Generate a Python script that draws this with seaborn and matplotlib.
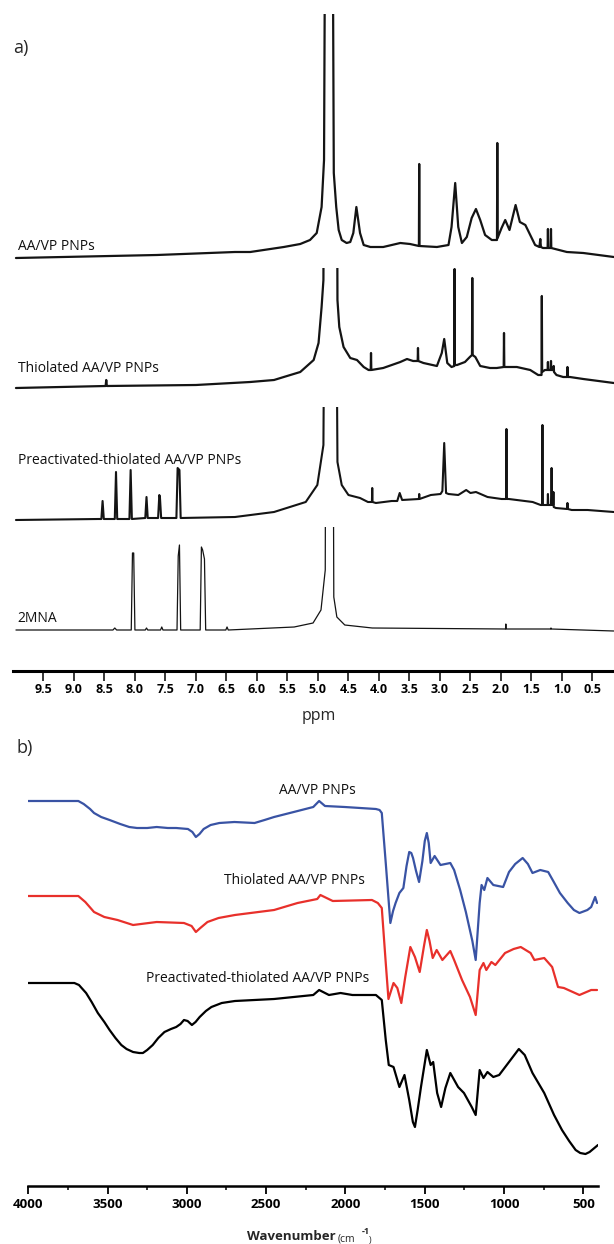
import numpy as np
import pandas as pd
import matplotlib
matplotlib.use("Agg")
import matplotlib.pyplot as plt
from matplotlib.ticker import FixedLocator
import seaborn as sns

sns.set_theme(style="white")
plt.rcParams['font.family'] = ['Open Sans', 'DejaVu Sans']

# ---------------- NMR data (ppm, intensity above own baseline) ----------------
nmr_names = ["AA/VP PNPs", "Thiolated AA/VP PNPs",
             "Preactivated-thiolated AA/VP PNPs", "2MNA"]

aavp_ppm = [9.95, 7.64, 6.36, 6.11, 5.56, 5.29, 5.13, 5.02, 4.94, 4.90, 4.865, 4.775,
            4.74, 4.70, 4.66, 4.61, 4.53, 4.47, 4.42, 4.37, 4.31, 4.25, 4.14, 3.93,
            3.65, 3.49, 3.345, 3.34, 3.335, 3.05, 2.86, 2.81, 2.75, 2.70, 2.64, 2.56,
            2.48, 2.41, 2.34, 2.26, 2.15, 2.065, 2.06, 2.055, 1.99, 1.93, 1.86, 1.76,
            1.69, 1.60, 1.52, 1.44, 1.37, 1.355, 1.345, 1.31, 1.235, 1.23, 1.225,
            1.185, 1.18, 1.175, 0.92, 0.65, 0.15]
aavp_int = [2, 5, 8, 8, 13, 16, 20, 27, 53, 100, 600, 600,
            87, 53, 30, 20, 17, 18, 27, 53, 27, 15, 13, 13,
            17, 16, 14, 96, 14, 13, 15, 33, 77, 33, 17, 23,
            42, 51, 40, 25, 20, 20, 117, 22, 32, 40, 30, 55,
            38, 35, 25, 15, 13, 21, 13, 12, 12, 31, 12,
            12, 31, 12, 8, 7, 3]

thio_ppm = [9.95, 8.48, 8.47, 8.46, 7.0, 6.11, 5.72, 5.56, 5.29, 5.07, 4.99, 4.94, 4.91,
            4.885, 4.705, 4.68, 4.65, 4.58, 4.47, 4.36, 4.25, 4.17, 4.135, 4.13, 4.125,
            3.93, 3.65, 3.54, 3.44, 3.365, 3.36, 3.355, 3.27, 3.05, 2.97, 2.93, 2.88,
            2.81, 2.765, 2.76, 2.755, 2.72, 2.59, 2.51, 2.475, 2.47, 2.465, 2.42, 2.34,
            2.18, 2.07, 1.955, 1.95, 1.945, 1.74, 1.52, 1.39, 1.335, 1.33, 1.325, 1.28,
            1.235, 1.23, 1.225, 1.185, 1.18, 1.175, 1.14, 1.135, 1.13, 1.09, 0.98,
            0.915, 0.91, 0.905, 0.87, 0.65, 0.15]
thio_int = [2, 4, 10, 4, 5, 8, 10, 13, 18, 30, 47, 83, 110,
            600, 600, 90, 63, 43, 32, 30, 23, 20, 20, 37, 20,
            22, 28, 31, 29, 29, 42, 29, 27, 24, 37, 51, 27,
            23, 24, 121, 25, 25, 28, 33, 35, 112, 35, 33, 24,
            22, 22, 23, 57, 23, 23, 20, 15, 15, 94, 18, 20,
            20, 28, 20, 20, 29, 20, 20, 24, 18, 15, 13,
            13, 23, 13, 13, 11, 7]

pre_ppm = [9.95, 8.60, 8.55, 8.53, 8.51, 8.33, 8.31, 8.29, 8.09, 8.07, 8.05, 7.83, 7.81,
           7.79, 7.62, 7.60, 7.59, 7.57, 7.32, 7.30, 7.27, 7.25, 6.36, 5.72, 5.20, 5.01,
           4.91, 4.86, 4.735, 4.68, 4.61, 4.50, 4.31, 4.18, 4.115, 4.11, 4.105, 4.05,
           3.79, 3.70, 3.66, 3.62, 3.345, 3.34, 3.335, 3.15, 2.99, 2.96, 2.93, 2.90,
           2.86, 2.70, 2.57, 2.50, 2.41, 2.22, 1.99, 1.915, 1.91, 1.905, 1.87, 1.48,
           1.35, 1.325, 1.32, 1.315, 1.28, 1.235, 1.23, 1.225, 1.18, 1.17, 1.16, 1.145,
           1.14, 1.135, 1.10, 0.915, 0.91, 0.905, 0.84, 0.58, 0.15]
pre_int = [1, 2, 2, 20, 2, 2, 49, 2, 2, 51, 2, 3, 24,
           3, 3, 26, 24, 3, 3, 53, 51, 3, 4, 9, 19, 36,
           76, 600, 600, 59, 36, 26, 23, 19, 19, 33, 19, 18,
           20, 20, 28, 21, 22, 27, 22, 26, 27, 30, 78, 28,
           27, 26, 31, 28, 29, 24, 22, 22, 92, 22, 22, 19,
           16, 16, 96, 16, 16, 16, 27, 16, 16, 53, 16, 16,
           29, 14, 13, 12, 18, 12, 11, 11, 9]

mna_ppm = [9.95, 8.36, 8.33, 8.30, 8.06, 8.04, 8.02, 8.00, 7.83, 7.81, 7.79, 7.58, 7.56,
           7.54, 7.31, 7.29, 7.27, 7.25, 6.93, 6.91, 6.89, 6.86, 6.84, 6.51, 6.49, 6.47,
           5.39, 5.08, 4.95, 4.88, 4.86, 4.77, 4.74, 4.69, 4.56, 4.11, 1.925, 1.92,
           1.915, 1.185, 1.18, 1.175, 0.15]
mna_int = [1, 1, 3, 1, 1, 78, 78, 1, 1, 3, 1, 1, 4,
           1, 1, 75, 86, 1, 1, 84, 81, 72, 1, 1, 4, 1,
           4, 8, 21, 61, 600, 600, 34, 14, 6, 3, 2, 7,
           2, 2, 3, 2, 0]

nmr_ticks = [9.5, 9.0, 8.5, 8.0, 7.5, 7.0, 6.5, 6.0, 5.5, 5.0, 4.5, 4.0,
             3.5, 3.0, 2.5, 2.0, 1.5, 1.0, 0.5]

# ---------------- FTIR data (wavenumber, transmittance a.u.) ----------------
ftir_names = ["AA/VP PNPs", "Thiolated AA/VP PNPs", "Preactivated-thiolated AA/VP PNPs"]

blue_wn = [4000, 3684, 3650, 3610, 3585, 3540, 3487, 3420, 3363, 3314, 3250, 3190, 3120,
           3067, 2993, 2965, 2943, 2920, 2894, 2850, 2795, 2700, 2573, 2510, 2450, 2326,
           2203, 2166, 2129, 2005, 1808, 1785, 1771, 1746, 1717, 1700, 1684, 1660, 1635,
           1615, 1598, 1585, 1574, 1555, 1536, 1515, 1500, 1487, 1475, 1463, 1438, 1401,
           1339, 1315, 1277, 1241, 1200, 1179, 1154, 1142, 1125, 1105, 1068, 1006, 969,
           930, 883, 850, 821, 772, 722, 690, 648, 599, 560, 525, 475, 451, 426, 414]
blue_t = [385, 385, 382, 377, 373, 369, 366, 362, 359, 358, 358, 359, 358,
          358, 357, 354, 349, 352, 357, 361, 363, 364, 363, 366, 369, 374,
          379, 385, 380, 379, 377, 376, 373, 323, 263, 275, 283, 293, 298,
          320, 334, 333, 328, 315, 304, 325, 345, 353, 343, 323, 330, 321,
          323, 316, 296, 274, 245, 226, 283, 301, 296, 308, 301, 299, 314,
          322, 328, 322, 313, 316, 314, 305, 293, 283, 276, 273, 276, 279, 289, 283]

red_wn = [4000, 3684, 3640, 3585, 3520, 3437, 3339, 3190, 3018, 2970, 2943, 2915, 2870,
          2800, 2697, 2450, 2302, 2178, 2158, 2080, 1833, 1796, 1771, 1746, 1729, 1697,
          1673, 1648, 1623, 1591, 1562, 1532, 1505, 1487, 1470, 1450, 1425, 1389, 1339,
          1315, 1265, 1215, 1179, 1154, 1130, 1112, 1080, 1055, 994, 940, 895, 833, 809,
          747, 697, 660, 623, 525, 451, 414]
red_t = [290, 290, 284, 274, 269, 266, 261, 264, 263, 260, 254, 258, 264,
         268, 271, 276, 283, 287, 291, 285, 286, 283, 278, 223, 187, 203,
         198, 183, 209, 239, 229, 214, 240, 256, 245, 228, 236, 226, 235,
         226, 206, 189, 171, 216, 223, 216, 224, 221, 233, 237, 239, 233, 226,
         228, 219, 199, 198, 191, 196, 196]

black_wn = [4000, 3709, 3680, 3635, 3600, 3561, 3520, 3487, 3450, 3413, 3380, 3339, 3300,
            3277, 3250, 3215, 3180, 3141, 3100, 3067, 3040, 3018, 2995, 2968, 2945, 2919,
            2880, 2845, 2780, 2697, 2450, 2203, 2166, 2104, 2031, 1956, 1808, 1771, 1746,
            1727, 1697, 1660, 1628, 1598, 1575, 1562, 1545, 1524, 1487, 1463, 1447, 1422,
            1397, 1370, 1339, 1290, 1253, 1204, 1179, 1154, 1130, 1105, 1068, 1031, 969,
            907, 870, 821, 747, 685, 635, 590, 549, 520, 487, 461, 408]
black_t = [203, 203, 201, 193, 184, 173, 164, 156, 148, 141, 137, 134, 133,
           133, 136, 141, 148, 154, 157, 159, 162, 166, 165, 161, 164, 169,
           175, 179, 183, 185, 187, 191, 196, 191, 193, 191, 191, 186, 146,
           121, 119, 99, 111, 86, 64, 59, 76, 99, 136, 121, 124, 93,
           79, 98, 113, 99, 93, 79, 71, 116, 108, 114, 109, 111, 124,
           137, 131, 113, 93, 71, 56, 45, 36, 33, 32, 34, 41]

ftir_major = [4000, 3500, 3000, 2500, 2000, 1500, 1000, 500]
ftir_minor = [3750, 3250, 2750, 2250, 1750, 1250, 750]

# ---------------- figure ----------------
W, H = 614, 1244
fig = plt.figure(figsize=(W / 100, H / 100), dpi=100)


def axes_px(left, top, right, bottom):
    return fig.add_axes([left / W, 1 - bottom / H, (right - left) / W, (bottom - top) / H])


def ftext(x, y, s, **kw):
    fig.text(x / W, 1 - y / H, s, **kw)


nmr_series = [(aavp_ppm, aavp_int), (thio_ppm, thio_int), (pre_ppm, pre_int), (mna_ppm, mna_int)]
# (baseline pixel, clip-top pixel, axes-bottom pixel, line width)
nmr_layout = [(260, 14, 300, 1.6), (390, 268, 430, 1.6), (521, 407, 560, 1.5), (631, 527, 671, 0.9)]
nmr_label_y = [247, 369, 460, 618]

for i, ((xs, ys), (base, top, bot, lw)) in enumerate(zip(nmr_series, nmr_layout)):
    ax = axes_px(12.9, top, 614, bot)
    ax.patch.set_alpha(0)
    df = pd.DataFrame({"ppm": xs, "I": ys})
    sns.lineplot(data=df, x="ppm", y="I", ax=ax, estimator=None, sort=False,
                 color="#141414", lw=lw)
    ax.set_xlim(10.0, 0.147)
    ax.set_ylim(base - bot, base - top)
    ax.set_xlabel("")
    ax.set_ylabel("")
    ax.set_yticks([])
    for s in ["top", "left", "right"]:
        ax.spines[s].set_visible(False)
    if i < 3:
        ax.spines["bottom"].set_visible(False)
        ax.set_xticks([])
    else:
        ax.spines["bottom"].set_linewidth(2.2)
        ax.spines["bottom"].set_color("black")
        ax.xaxis.set_major_locator(FixedLocator(nmr_ticks))
        ax.set_xticklabels([f"{t:.1f}" for t in nmr_ticks], fontsize=9, fontweight="bold")
        ax.tick_params(axis="x", bottom=True, direction="out", length=7, width=1.1,
                       pad=1.5, colors="black")
    ftext(17.5, nmr_label_y[i], nmr_names[i], fontsize=10, va="center", ha="left",
          color="#111111")

ftext(13, 48, "a)", fontsize=13, va="center", ha="left")
ftext(319, 716, "ppm", fontsize=11.5, va="center", ha="center")

# ---------------- FTIR ----------------
ax2 = axes_px(28.2, 760, 598.0, 1186)
ax2.patch.set_alpha(0)
ftir_series = [(blue_wn, blue_t, "#3953a4"), (red_wn, red_t, "#e8302b"), (black_wn, black_t, "#000000")]
for (xs, ys, c) in ftir_series:
    df = pd.DataFrame({"wn": xs, "T": ys})
    sns.lineplot(data=df, x="wn", y="T", ax=ax2, estimator=None, sort=False, color=c,
                 lw=1.6, solid_joinstyle="round")
ax2.set_xlim(4000, 408)
ax2.set_ylim(0, 426)
ax2.set_xlabel("")
ax2.set_ylabel("")
ax2.set_yticks([])
for s in ["top", "left", "right"]:
    ax2.spines[s].set_visible(False)
ax2.spines["bottom"].set_linewidth(1.8)
ax2.spines["bottom"].set_color("black")
ax2.xaxis.set_major_locator(FixedLocator(ftir_major))
ax2.xaxis.set_minor_locator(FixedLocator(ftir_minor))
ax2.set_xticklabels([str(t) for t in ftir_major], fontsize=9.5, fontweight="bold")
ax2.tick_params(axis="x", which="major", bottom=True, direction="out", length=6, width=1.3,
                pad=3, colors="black")
ax2.tick_params(axis="x", which="minor", bottom=True, direction="out", length=3, width=1.1,
                colors="black")

ftir_label_pos = [(317, 790), (294, 881), (258, 979)]
for name, (x, y) in zip(ftir_names, ftir_label_pos):
    ftext(x, y, name, fontsize=10, va="center", ha="center", color="#111111")

ftext(17, 748, "b)", fontsize=13, va="center", ha="left")
ftext(336, 1237, "Wavenumber", fontsize=9.5, fontweight="bold", va="center", ha="right")
ftext(338, 1239, "(cm", fontsize=7.5, va="center", ha="left")
ftext(362, 1231, "-1", fontsize=6.5, fontweight="bold", va="center", ha="left")
ftext(369, 1240, ")", fontsize=6.5, va="center", ha="left")

fig.savefig("out.png", dpi=100)
